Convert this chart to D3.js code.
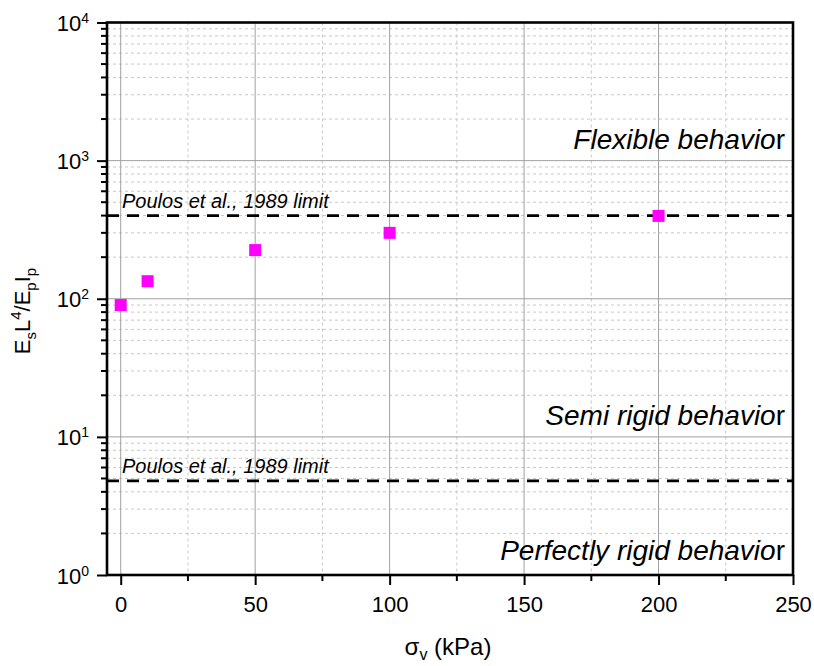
<!DOCTYPE html>
<html><head><meta charset="utf-8">
<script src="https://cdn.jsdelivr.net/npm/d3@7"></script>
<style>body{margin:0;background:#fff}text{font-family:Arial,"Liberation Sans",sans-serif}</style>
</head><body><svg id="c" width="814" height="666"></svg>
<script>
const xValues = [0, 10, 50, 100, 200];
const yValues = [90, 134, 225, 300, 398];
const limitValues = [400, 4.8];
const xTicks = [0, 50, 100, 150, 200, 250];
const yTicks = [1, 10, 100, 1000, 10000];
const regionLabels = [
  {lead: "Flexible behavio", tail: "r", y: 1210},
  {lead: "Semi rigid behavio", tail: "r", y: 12.2},
  {lead: "Perfectly rigid behavio", tail: "r", y: 1.28}
];

const svg = d3.select("#c");
const FF = "Arial, 'Liberation Sans', sans-serif";
const L = 107, R = 793, T = 22.5, B = 575;
const x = d3.scaleLinear().domain([-5.1, 250]).range([L, R]);
const y = d3.scaleLog().domain([1, 10000]).range([B, T]);

const g = svg.append("g");
// minor grid
const xMinor = [25, 75, 125, 175, 225];
g.selectAll(".xm").data(xMinor).enter().append("line")
  .attr("x1", d => x(d)).attr("x2", d => x(d)).attr("y1", T).attr("y2", B)
  .attr("stroke", "#c8c8c8").attr("stroke-dasharray", "3,3").attr("stroke-width", 1);
const yMinor = [];
for (let e = 0; e < 4; e++) for (let k = 2; k <= 9; k++) yMinor.push(k * Math.pow(10, e));
g.selectAll(".ym").data(yMinor).enter().append("line")
  .attr("x1", L).attr("x2", R).attr("y1", d => y(d)).attr("y2", d => y(d))
  .attr("stroke", "#c8c8c8").attr("stroke-dasharray", "3,3").attr("stroke-width", 1);
// major grid
g.selectAll(".xg").data(xTicks).enter().append("line")
  .attr("x1", d => x(d)).attr("x2", d => x(d)).attr("y1", T).attr("y2", B)
  .attr("stroke", "#a0a0a0").attr("stroke-width", 1);
g.selectAll(".yg").data(yTicks).enter().append("line")
  .attr("x1", L).attr("x2", R).attr("y1", d => y(d)).attr("y2", d => y(d))
  .attr("stroke", "#a0a0a0").attr("stroke-width", 1);

// limit lines
g.selectAll(".lim").data(limitValues).enter().append("line")
  .attr("x1", L).attr("x2", R).attr("y1", d => y(d)).attr("y2", d => y(d))
  .attr("stroke", "#000").attr("stroke-width", 2.6).attr("stroke-dasharray", "12,8");
g.selectAll(".limt").data(limitValues).enter().append("text")
  .attr("x", 122).attr("y", d => y(d) - 8)
  .attr("font-size", 20).attr("font-style", "italic").text("Poulos et al., 1989 limit");

// region labels
regionLabels.forEach(r => {
  const t = g.append("text").attr("x", 785).attr("y", y(r.y)).attr("text-anchor", "end").attr("font-size", 28);
  t.append("tspan").attr("font-style", "italic").text(r.lead);
  t.append("tspan").text(r.tail);
});

// points
g.selectAll(".pt").data(xValues).enter().append("rect")
  .attr("x", (d) => x(d) - 6).attr("y", (d, i) => y(yValues[i]) - 6)
  .attr("width", 12).attr("height", 12).attr("fill", "#ff00ff");

// axes
const xAxis = d3.axisBottom(x).tickValues(xTicks).tickSize(10).tickFormat(d3.format("d"));
const xg = svg.append("g").attr("transform", `translate(0,${B})`).call(xAxis);
xg.select(".domain").remove();
xg.selectAll(".tick line").attr("stroke-width", 2);
xg.selectAll("text").attr("y", 37).attr("dy", 0).attr("font-size", 22).attr("font-family", FF);
svg.append("g").selectAll("line").data(xMinor).enter().append("line")
  .attr("x1", d => x(d)).attr("x2", d => x(d)).attr("y1", B).attr("y2", B + 6)
  .attr("stroke", "#000").attr("stroke-width", 2);

const yAxis = d3.axisLeft(y).tickValues(yTicks).tickSize(10).tickFormat(() => "");
const yg = svg.append("g").attr("transform", `translate(${L},0)`).call(yAxis);
yg.select(".domain").remove();
yg.selectAll(".tick line").attr("stroke-width", 2);
svg.append("g").selectAll("line").data(yMinor).enter().append("line")
  .attr("x1", L - 6).attr("x2", L).attr("y1", d => y(d)).attr("y2", d => y(d))
  .attr("stroke", "#000").attr("stroke-width", 2);
// y tick labels as 10^n
const yl = svg.append("g").selectAll("text").data(yTicks).enter().append("text")
  .attr("x", 89).attr("y", d => y(d) + 8.5).attr("text-anchor", "end").attr("font-size", 22);
yl.append("tspan").text("10");
yl.append("tspan").attr("dy", -8).attr("font-size", 14).text(d => Math.round(Math.log10(d)));

// frame
svg.append("rect").attr("x", L).attr("y", T).attr("width", R - L).attr("height", B - T)
  .attr("fill", "none").attr("stroke", "#000").attr("stroke-width", 2.6);

// axis titles
const xt = svg.append("text").attr("x", 448).attr("y", 655).attr("text-anchor", "middle").attr("font-size", 24);
xt.append("tspan").text("σ");
xt.append("tspan").attr("dy", 5).attr("font-size", 16).text("v");
xt.append("tspan").attr("dy", -5).text(" (kPa)");

const yt = svg.append("text").attr("transform", "translate(30,311) rotate(-90)").attr("text-anchor", "middle").attr("font-size", 22);
yt.append("tspan").text("E");
yt.append("tspan").attr("dy", 6).attr("font-size", 15).text("s");
yt.append("tspan").attr("dy", -6).text("L");
yt.append("tspan").attr("dy", -9).attr("font-size", 15).text("4");
yt.append("tspan").attr("dy", 9).text("/E");
yt.append("tspan").attr("dy", 6).attr("font-size", 15).text("p");
yt.append("tspan").attr("dy", -6).text("I");
yt.append("tspan").attr("dy", 6).attr("font-size", 15).text("p");
</script></body></html>
